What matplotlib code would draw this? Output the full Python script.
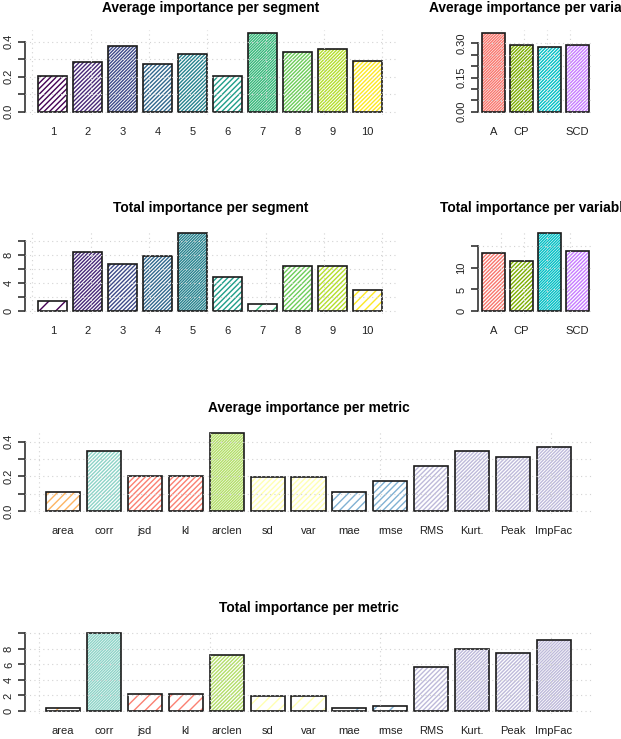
import numpy as np
import matplotlib
matplotlib.use("Agg")
import matplotlib.pyplot as plt

plt.rcParams['font.family'] = ['Liberation Sans', 'DejaVu Sans']
plt.rcParams['hatch.linewidth'] = 1.0

# data
seg_names = ['1', '2', '3', '4', '5', '6', '7', '8', '9', '10']
seg_avg = [0.202, 0.282, 0.375, 0.274, 0.330, 0.204, 0.448, 0.341, 0.360, 0.291]
seg_total = [1.43, 8.38, 6.76, 7.86, 11.14, 4.81, 0.95, 6.43, 6.43, 2.95]

var_names = ['A', 'CP', '', 'SCD']
var_avg = [0.344, 0.291, 0.285, 0.295]
var_total = [13.4, 11.55, 18.1, 13.95]

metric_names = ['area', 'corr', 'jsd', 'kl', 'arclen', 'sd', 'var', 'mae', 'rmse',
                'RMS', 'Kurt.', 'Peak', 'ImpFac']
metric_avg = [0.112, 0.344, 0.204, 0.204, 0.448, 0.194, 0.194, 0.112, 0.175,
              0.258, 0.344, 0.310, 0.367]
metric_total = [0.34, 10.02, 2.24, 2.24, 7.18, 1.94, 1.94, 0.34, 0.69,
                5.63, 7.96, 7.48, 9.16]

# colours
seg_cols = ['#440154', '#482878', '#3E4A89', '#31688E', '#26828E',
            '#1F9E89', '#35B779', '#6DCD59', '#B4DE2C', '#FDE725']
var_cols = ['#F8766D', '#7CAE00', '#00BFC4', '#C77CFF']
metric_cols = ['#FDB462', '#8DD3C7', '#FB8072', '#FB8072', '#B3DE69', '#FFFFB3', '#FFFFB3',
               '#80B1D3', '#80B1D3', '#BEBADA', '#BEBADA', '#BEBADA', '#BEBADA']

# y ticks (R drops labels that would overlap)
yt_frac = [0.0, 0.1, 0.2, 0.3, 0.4]
yl_frac = ['0.0', '', '0.2', '', '0.4']
yt_var_avg = [0.0, 0.05, 0.10, 0.15, 0.20, 0.25, 0.30]
yl_var_avg = ['0.00', '', '', '0.15', '', '', '0.30']
yt_seg_tot = [0, 2, 4, 6, 8, 10]
yl_seg_tot = ['0', '', '4', '', '8', '']
yt_var_tot = [0, 5, 10, 15]
yl_var_tot = ['0', '5', '10', '']
yt_met_tot = [0, 2, 4, 6, 8, 10]
yl_met_tot = ['0', '2', '4', '6', '8', '']

W, H = 621, 739
fig = plt.figure(figsize=(W / 100, H / 100), dpi=100)

# (title, names, values, colours, yticks, ylabels, xgrid, left, right, top, bottom) in px
panels = [
    ('Average importance per segment', seg_names, seg_avg, seg_cols, yt_frac, yl_frac,
     range(0, 13, 2), 24.5, 396.1, 30.2, 114.9),
    ('Average importance per variable', var_names, var_avg, var_cols, yt_var_avg, yl_var_avg,
     range(1, 5), 477.7, 593.3, 30.2, 114.9),
    ('Total importance per segment', seg_names, seg_total, seg_cols, yt_seg_tot, yl_seg_tot,
     range(0, 13, 2), 24.5, 396.1, 229.9, 314.1),
    ('Total importance per variable', var_names, var_total, var_cols, yt_var_tot, yl_var_tot,
     range(1, 5), 477.7, 593.3, 229.9, 314.1),
    ('Average importance per metric', metric_names, metric_avg, metric_cols, yt_frac, yl_frac,
     range(0, 16, 5), 25, 592, 430.2, 514.1),
    ('Total importance per metric', metric_names, metric_total, metric_cols, yt_met_tot, yl_met_tot,
     range(0, 16, 5), 25, 592, 630.2, 714.1),
]

for title, names, vals, cols, yt, yl, xg, l, r, t, b in panels:
    ax = fig.add_axes([l / W, 1 - b / H, (r - l) / W, (b - t) / H])
    n = len(vals)
    lefts = 0.2 + 1.2 * np.arange(n)
    vmax = max(vals)
    span = lefts[-1] + 1 - lefts[0]
    ax.set_xlim(lefts[0] - 0.04 * span, lefts[-1] + 1 + 0.04 * span)
    ax.set_ylim(-0.04 * vmax, 1.04 * vmax)

    # hatched fill, density grows with the value
    bars = ax.bar(lefts, vals, width=1, align='edge', facecolor='white',
                  edgecolor=cols, linewidth=0, zorder=1)
    for bar, v in zip(bars, vals):
        bar.set_hatch('/' * int(1 + round(11 * v / vmax)))
    ax.bar(lefts, vals, width=1, align='edge', fill=False,
           edgecolor='#1a1a1a', linewidth=1.2, zorder=2)

    # dotted grid on top, like R's grid()
    for y in yt:
        ax.axhline(y, color='#D3D3D3', linestyle=(0, (1, 3)), linewidth=0.8, zorder=3)
    for x in xg:
        ax.axvline(x, color='#D3D3D3', linestyle=(0, (1, 3)), linewidth=0.8, zorder=3)

    for s in ['top', 'right', 'bottom']:
        ax.spines[s].set_visible(False)
    ax.spines['left'].set_bounds(yt[0], yt[-1])
    ax.spines['left'].set_color('#333333')
    ax.spines['left'].set_linewidth(1.2)

    ax.set_yticks(yt)
    ax.set_yticklabels(yl, rotation=90, va='center', fontsize=8, color='#222222')
    ax.tick_params(axis='y', length=5, width=1.2, color='#333333', pad=3)

    ax.set_xticks(lefts + 0.5)
    ax.set_xticklabels(names, fontsize=8, color='#222222')
    ax.tick_params(axis='x', length=0, pad=8.5)

    cx = (l + r) / 2
    fig.text(cx / W, 1 - (t - 22) / H, title, ha='center', va='center',
             fontsize=9.9, fontweight='bold')

fig.savefig('out.png', dpi=100)
